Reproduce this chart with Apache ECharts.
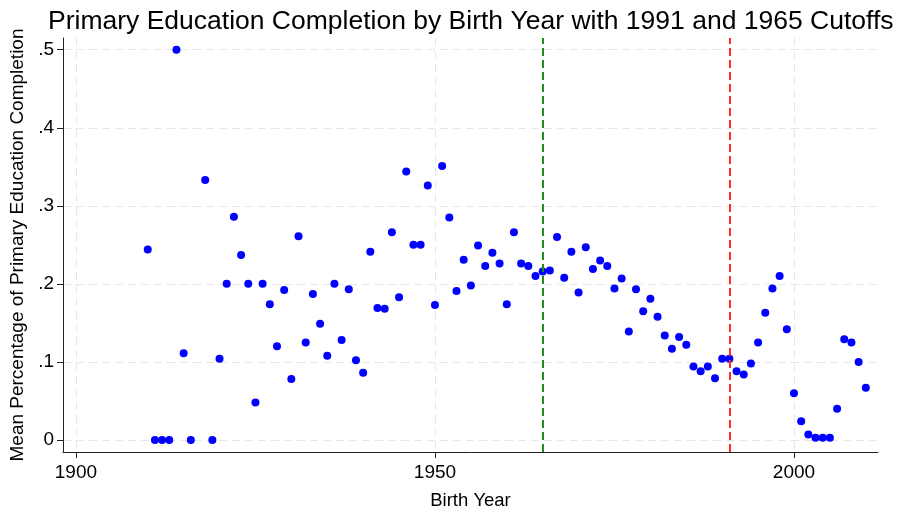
<!DOCTYPE html>
<html>
<head>
<meta charset="utf-8">
<script src="https://cdn.jsdelivr.net/npm/echarts@6/dist/echarts.min.js"></script>
<style>
  html, body { margin: 0; padding: 0; background: #fff; }
  #chart { width: 902px; height: 510px; }
</style>
</head>
<body>
<div id="chart"></div>
<script>
// Birth years (one point per cohort) and mean share completing primary education
const birthYears = [
  1910, 1911, 1912, 1913, 1914, 1915, 1916, 1918, 1919, 1920,
  1921, 1922, 1923, 1924, 1925, 1926, 1927, 1928, 1929, 1930,
  1931, 1932, 1933, 1934, 1935, 1936, 1937, 1938, 1939, 1940,
  1941, 1942, 1943, 1944, 1945, 1946, 1947, 1948, 1949, 1950,
  1951, 1952, 1953, 1954, 1955, 1956, 1957, 1958, 1959, 1960,
  1961, 1962, 1963, 1964, 1965, 1966, 1967, 1968, 1969, 1970,
  1971, 1972, 1973, 1974, 1975, 1976, 1977, 1978, 1979, 1980,
  1981, 1982, 1983, 1984, 1985, 1986, 1987, 1988, 1989, 1990,
  1991, 1992, 1993, 1994, 1995, 1996, 1997, 1998, 1999, 2000,
  2001, 2002, 2003, 2004, 2005, 2006, 2007, 2008, 2009, 2010
];
const completionShare = [
  0.244, 0, 0, 0, 0.500, 0.111, 0, 0.333, 0, 0.104,
  0.200, 0.286, 0.237, 0.200, 0.048, 0.200, 0.174, 0.120, 0.192, 0.078,
  0.261, 0.125, 0.187, 0.149, 0.108, 0.200, 0.128, 0.193, 0.102, 0.086,
  0.241, 0.169, 0.168, 0.266, 0.183, 0.344, 0.250, 0.250, 0.326, 0.173,
  0.351, 0.285, 0.191, 0.231, 0.198, 0.249, 0.223, 0.240, 0.226, 0.174,
  0.266, 0.226, 0.223, 0.210, 0.216, 0.217, 0.260, 0.208, 0.241, 0.189,
  0.247, 0.219, 0.230, 0.223, 0.194, 0.207, 0.139, 0.193, 0.165, 0.181,
  0.158, 0.134, 0.117, 0.132, 0.122, 0.094, 0.088, 0.094, 0.079, 0.104,
  0.104, 0.088, 0.084, 0.098, 0.125, 0.163, 0.194, 0.210, 0.142, 0.060,
  0.024, 0.007, 0.003, 0.003, 0.003, 0.040, 0.129, 0.125, 0.100, 0.067
];

// Policy cutoff years
const cutoffLate = 1991;
const cutoffEarly = 1965;

// Axis ticks and their labels
const xTicks = [1900, 1950, 2000];
const yTicks = [0, 0.1, 0.2, 0.3, 0.4, 0.5];
const yTickLabels = ['0', '.1', '.2', '.3', '.4', '.5'];

const points = birthYears.map((yr, i) => [yr, completionShare[i]]);

const font = '"Liberation Sans", Arial, Helvetica, sans-serif';
const gridLine = { show: true, lineStyle: { color: '#e6e6e6', type: [8, 5], width: 1 } };

const chart = echarts.init(document.getElementById('chart'), null, { renderer: 'canvas' });
chart.setOption({
  animation: false,
  backgroundColor: '#ffffff',
  title: {
    text: 'Primary Education Completion by Birth Year with 1991 and 1965 Cutoffs',
    left: 43,
    top: 3,
    textStyle: { fontFamily: font, fontSize: 26.5, fontWeight: 'normal', color: '#000' }
  },
  grid: { left: 63, right: 24, top: 38, bottom: 58, containLabel: false, outerBoundsMode: 'none' },
  xAxis: {
    type: 'value',
    min: 1898.2,
    max: 2011.7,
    name: 'Birth Year',
    nameLocation: 'middle',
    nameGap: 39,
    nameTextStyle: { fontFamily: font, fontSize: 18.5, color: '#000' },
    axisLine: { show: true, onZero: false, lineStyle: { color: '#222', width: 1 } },
    axisTick: { show: true, length: 6, customValues: xTicks, lineStyle: { color: '#222' } },
    axisLabel: {
      customValues: xTicks, fontFamily: font, fontSize: 19, color: '#000', margin: 11,
      formatter: v => String(v)
    },
    splitLine: gridLine
  },
  yAxis: {
    type: 'value',
    min: -0.0154,
    max: 0.515,
    name: 'Mean Percentage of Primary Education Completion',
    nameLocation: 'middle',
    nameGap: 36,
    nameRotate: 90,
    nameTextStyle: { fontFamily: font, fontSize: 19, color: '#000' },
    axisLine: { show: true, onZero: false, lineStyle: { color: '#222', width: 1 } },
    axisTick: { show: true, length: 6, customValues: yTicks, lineStyle: { color: '#222' } },
    axisLabel: {
      customValues: yTicks,
      fontFamily: font, fontSize: 19, color: '#000', margin: 9,
      formatter: v => {
        const idx = yTicks.findIndex(t => Math.abs(t - v) < 1e-9);
        return idx >= 0 ? yTickLabels[idx] : '';
      }
    },
    splitLine: gridLine
  },
  series: [{
    type: 'scatter',
    data: points,
    symbol: 'circle',
    symbolSize: 8,
    itemStyle: { color: '#0000ff', opacity: 1 },
    markLine: {
      silent: true,
      symbol: ['none', 'none'],
      label: { show: false },
      data: [
        { xAxis: cutoffEarly, lineStyle: { color: '#1e8c1e', type: [8, 4], width: 2 } },
        { xAxis: cutoffLate, lineStyle: { color: '#ff2b2b', type: [8, 4], width: 2 } }
      ]
    }
  }]
});
</script>
</body>
</html>
